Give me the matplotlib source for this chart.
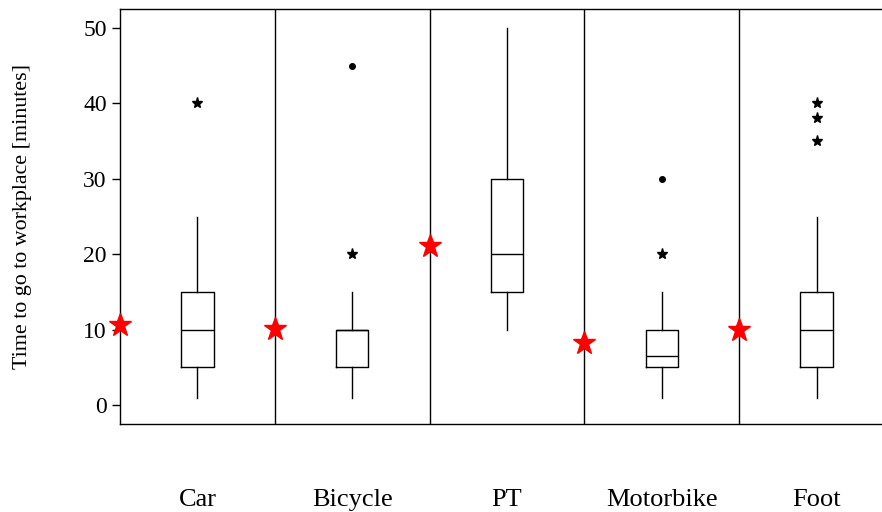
import matplotlib
matplotlib.use("Agg")
import matplotlib.pyplot as plt

categories = ["Car", "Bicycle", "PT", "Motorbike", "Foot"]
q1 = [5, 5, 15, 5, 5]
med = [10, 10, 20, 6.5, 10]
q3 = [15, 10, 30, 10, 15]
whislo = [1, 1, 10, 1, 1]
whishi = [25, 15, 50, 15, 25]
star_outliers = [[40], [20], [], [20], [40, 38, 35]]
dot_outliers = [[], [45], [], [30], []]
means = [10.6, 10.1, 21.1, 8.2, 10.0]
yticks = [0, 10, 20, 30, 40, 50]

plt.rcParams['font.family'] = ['Liberation Serif', 'DejaVu Serif']

fig = plt.figure(figsize=(8.82, 5.12), dpi=100)
ax = fig.add_axes([120/882, 88/512, 774/882, 415/512])

n = len(categories)
pos = list(range(n))
stats = []
for i in range(n):
    stats.append(dict(med=med[i], q1=q1[i], q3=q3[i], whislo=whislo[i], whishi=whishi[i], fliers=[]))
ax.bxp(stats, positions=pos, widths=0.21, showcaps=False, showfliers=False,
       boxprops=dict(color='black', linewidth=1),
       medianprops=dict(color='black', linewidth=1),
       whiskerprops=dict(color='black', linewidth=1))

for i in range(n):
    if star_outliers[i]:
        ax.plot([pos[i]] * len(star_outliers[i]), star_outliers[i], linestyle='none',
                marker='*', color='black', markersize=8)
    if dot_outliers[i]:
        ax.plot([pos[i]] * len(dot_outliers[i]), dot_outliers[i], linestyle='none',
                marker='o', color='black', markersize=4)

for i in range(1, n):
    ax.axvline(i - 0.5, color='black', linewidth=1)

ax.plot([p - 0.5 for p in pos], means, linestyle='none', marker='*', color='red',
        markersize=17, clip_on=False, zorder=5)

ax.set_xlim(-0.5, n - 0.5)
ax.set_ylim(-2.5, 52.5)
ax.set_yticks(yticks)
ax.set_xticks(pos)
ax.set_xticklabels(categories, fontsize=19)
ax.tick_params(axis='x', length=0, pad=47)
ax.tick_params(axis='y', labelsize=17, length=6, width=1, direction='out')
ax.set_ylabel("Time to go to workplace [minutes]", fontsize=15.8, labelpad=37)
for s in ax.spines.values():
    s.set_linewidth(1)

fig.savefig("out.png", dpi=100)
